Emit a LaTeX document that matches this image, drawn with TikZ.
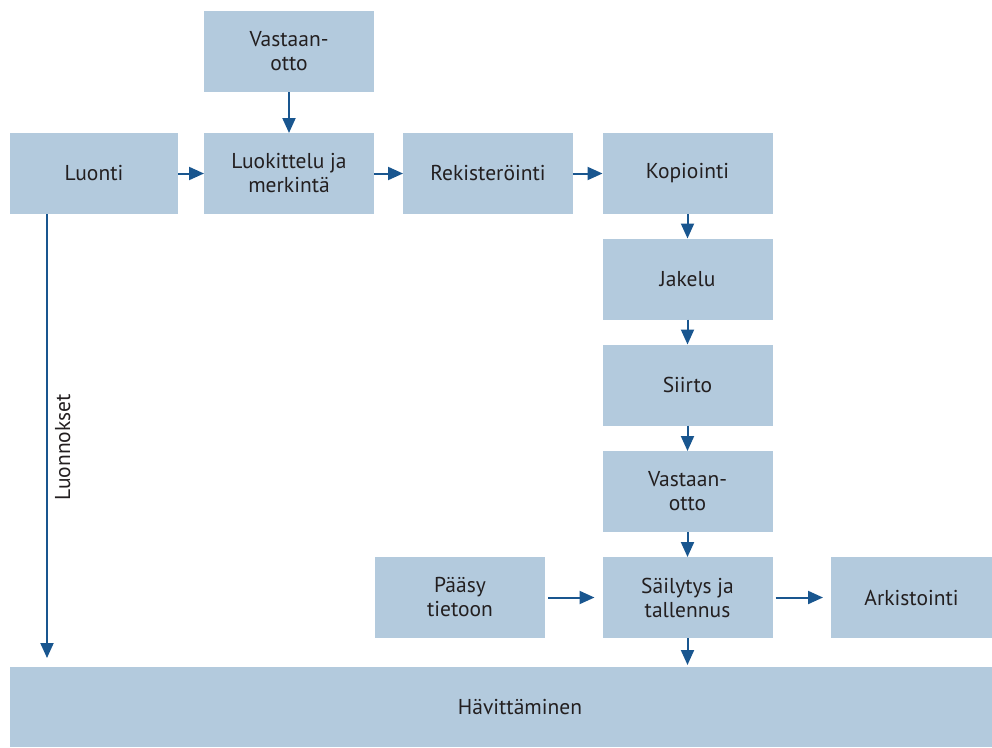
\documentclass[tikz,border=0pt]{standalone}
\usepackage{fontspec}
\setmainfont{PT Sans}
\usetikzlibrary{arrows.meta}
\definecolor{boxfill}{HTML}{B3CADD}
\definecolor{flow}{HTML}{19568F}
\definecolor{ink}{HTML}{231F20}
\begin{document}
\begin{tikzpicture}[x=1pt,y=-1pt,
  stage/.style={fill=boxfill, draw=none, inner sep=0pt, outer sep=0pt,
    minimum width=170pt, minimum height=81pt, align=center, text=ink,
    font=\fontsize{21.5}{24}\selectfont},
  flowarrow/.style={draw=flow, line width=2pt, -{Triangle[length=15pt,width=13pt]}},
  sidelabel/.style={text=ink, font=\fontsize{21.5}{24}\selectfont, inner sep=7pt}]
\useasboundingbox (0,0) rectangle (992,747);

% process stages
\node[stage] (vast1) at (289,51.5) {Vastaan-\\otto};
\node[stage, minimum width=168pt] (luonti) at (94,173.5) {Luonti};
\node[stage] (luok) at (289,173.5) {Luokittelu ja\\merkintä};
\node[stage] (rek) at (488,173.5) {Rekisteröinti};
\node[stage] (kop) at (687.5,173.5) {Kopiointi};
\node[stage] (jak) at (687.5,279) {Jakelu};
\node[stage] (siirto) at (687.5,385) {Siirto};
\node[stage] (vast2) at (687.5,491.5) {Vastaan-\\otto};
\node[stage] (sail) at (687.5,597.5) {Säilytys ja\\tallennus};
\node[stage] (paasy) at (460,597.5) {Pääsy\\tietoon};
\node[stage, minimum width=161pt] (ark) at (911.5,597.5) {Arkistointi};
\node[stage, minimum width=982pt, minimum height=80pt] (havit) at (501,707) {\hspace*{38pt}Hävittäminen};

% flow between stages
\draw[flowarrow] (vast1) -- (luok);
\draw[flowarrow] (luonti) -- (luok);
\draw[flowarrow] (luok) -- (rek);
\draw[flowarrow] (rek) -- (kop);
\draw[flowarrow] (kop) -- (jak);
\draw[flowarrow] (jak) -- (siirto);
\draw[flowarrow] (siirto) -- (vast2);
\draw[flowarrow] (vast2) -- (sail);
\draw[flowarrow, shorten <=3pt, shorten >=8pt] (paasy) -- (sail);
\draw[flowarrow, shorten <=3pt, shorten >=8pt] (sail) -- (ark);
\draw[flowarrow, shorten >=2pt] (sail) -- (sail |- havit.north);

% drafts go straight to disposal
\coordinate (draftstart) at ([xshift=37pt]luonti.south west);
\draw[flowarrow, shorten >=9pt] (draftstart) -- (draftstart |- havit.north)
  node[sidelabel, pos=0.515, rotate=90, anchor=north] {Luonnokset};
\end{tikzpicture}
\end{document}
